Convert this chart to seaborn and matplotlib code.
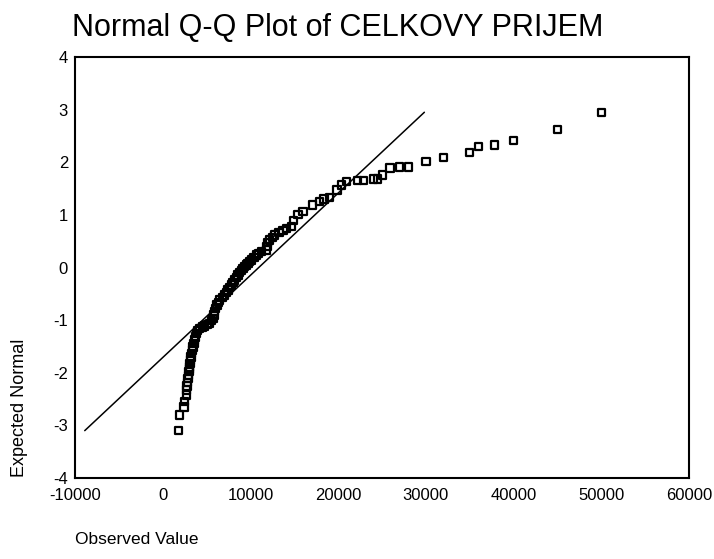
import matplotlib
matplotlib.use("Agg")
from matplotlib import pyplot as plt
import seaborn as sns
import pandas as pd

sns.set_style("white")
plt.rcParams["font.family"] = ["Liberation Sans", "DejaVu Sans"]
plt.rcParams["axes.unicode_minus"] = False
plt.rcParams["text.color"] = "black"

observed = [1800, 1940, 2430, 2510, 2700, 2700, 2770, 2830, 2890, 2950,
            3000, 3040, 3080, 3120, 3160, 3210, 3270, 3360, 3460, 3550,
            3650, 3740, 3840, 4000, 4220, 4500, 4790, 5100, 5360, 5550,
            5740, 5830, 5930, 6050, 6200, 6350, 6500, 6800, 7070, 7250,
            7450, 7650, 7830, 8000, 8210, 8400, 8590, 8780, 8970, 9150,
            9350, 9550, 9730, 9900, 10110, 10400, 10680, 10950, 11250, 11820,
            11900, 11980, 12200, 12500, 12770, 13270, 13720, 14110, 14680, 14940,
            15430, 16000, 17070, 17900, 18390, 19040, 19870, 20370, 20980, 22240,
            22890, 24000, 24520, 25060, 25930, 27000, 28000, 30000, 32000, 35000,
            36000, 37800, 40000, 45000, 50000]
expected = [-3.10, -2.80, -2.65, -2.55, -2.42, -2.33, -2.25, -2.18, -2.11, -2.05,
            -1.98, -1.93, -1.89, -1.83, -1.76, -1.70, -1.63, -1.57, -1.51, -1.45,
            -1.38, -1.32, -1.25, -1.20, -1.16, -1.13, -1.11, -1.08, -1.06, -1.01,
            -0.97, -0.90, -0.84, -0.78, -0.71, -0.66, -0.62, -0.57, -0.52, -0.47,
            -0.43, -0.38, -0.33, -0.28, -0.24, -0.19, -0.14, -0.10, -0.06, -0.02,
            0.02, 0.05, 0.08, 0.11, 0.14, 0.19, 0.24, 0.27, 0.30, 0.33,
            0.40, 0.47, 0.52, 0.57, 0.62, 0.66, 0.70, 0.74, 0.78, 0.89,
            1.01, 1.06, 1.19, 1.25, 1.30, 1.33, 1.47, 1.57, 1.63, 1.65,
            1.65, 1.68, 1.68, 1.76, 1.89, 1.91, 1.91, 2.01, 2.09, 2.18,
            2.30, 2.33, 2.41, 2.62, 2.95]

mean_obs = 10950
sd_obs = 6400

x_ticks = [-10000, 0, 10000, 20000, 30000, 40000, 50000, 60000]
y_ticks = [-4, -3, -2, -1, 0, 1, 2, 3, 4]

df = pd.DataFrame({"Observed": observed, "Expected": expected})
z_lo, z_hi = min(expected), max(expected)
ref = pd.DataFrame({"Expected": [z_lo, z_hi]})
ref["Observed"] = mean_obs + ref["Expected"] * sd_obs

fig = plt.figure(figsize=(7.14, 5.59), dpi=100)
ax = fig.add_axes([75/714, 1-478/559, (689-75)/714, (478-57)/559])

sns.lineplot(data=ref, x="Observed", y="Expected", color="black", linewidth=1.1, ax=ax)
sns.scatterplot(data=df, x="Observed", y="Expected", marker="s", s=28,
                facecolor="none", edgecolor="black", linewidth=1.6, ax=ax)

ax.set_xlim(-10000, 60000)
ax.set_ylim(-4, 4)
ax.set_xticks(x_ticks)
ax.set_yticks(y_ticks)
ax.tick_params(direction="out", length=3, width=2, labelsize=12, colors="black", pad=2)
ax.tick_params(axis="x", pad=4)
for sp in ax.spines.values():
    sp.set_color("black")
    sp.set_linewidth(1.5)
ax.set_xlabel("")
ax.set_ylabel("")

fig.text(72/714, 1-28/559, "Normal Q-Q Plot of CELKOVY PRIJEM", fontsize=22,
         ha="left", va="center")
fig.text(75/714, 1-540/559, "Observed Value", fontsize=12.5, ha="left", va="center")
fig.text(20/714, 1-477/559, "Expected Normal", fontsize=13, rotation=90,
         ha="center", va="bottom")

plt.savefig("out.png", dpi=100)
